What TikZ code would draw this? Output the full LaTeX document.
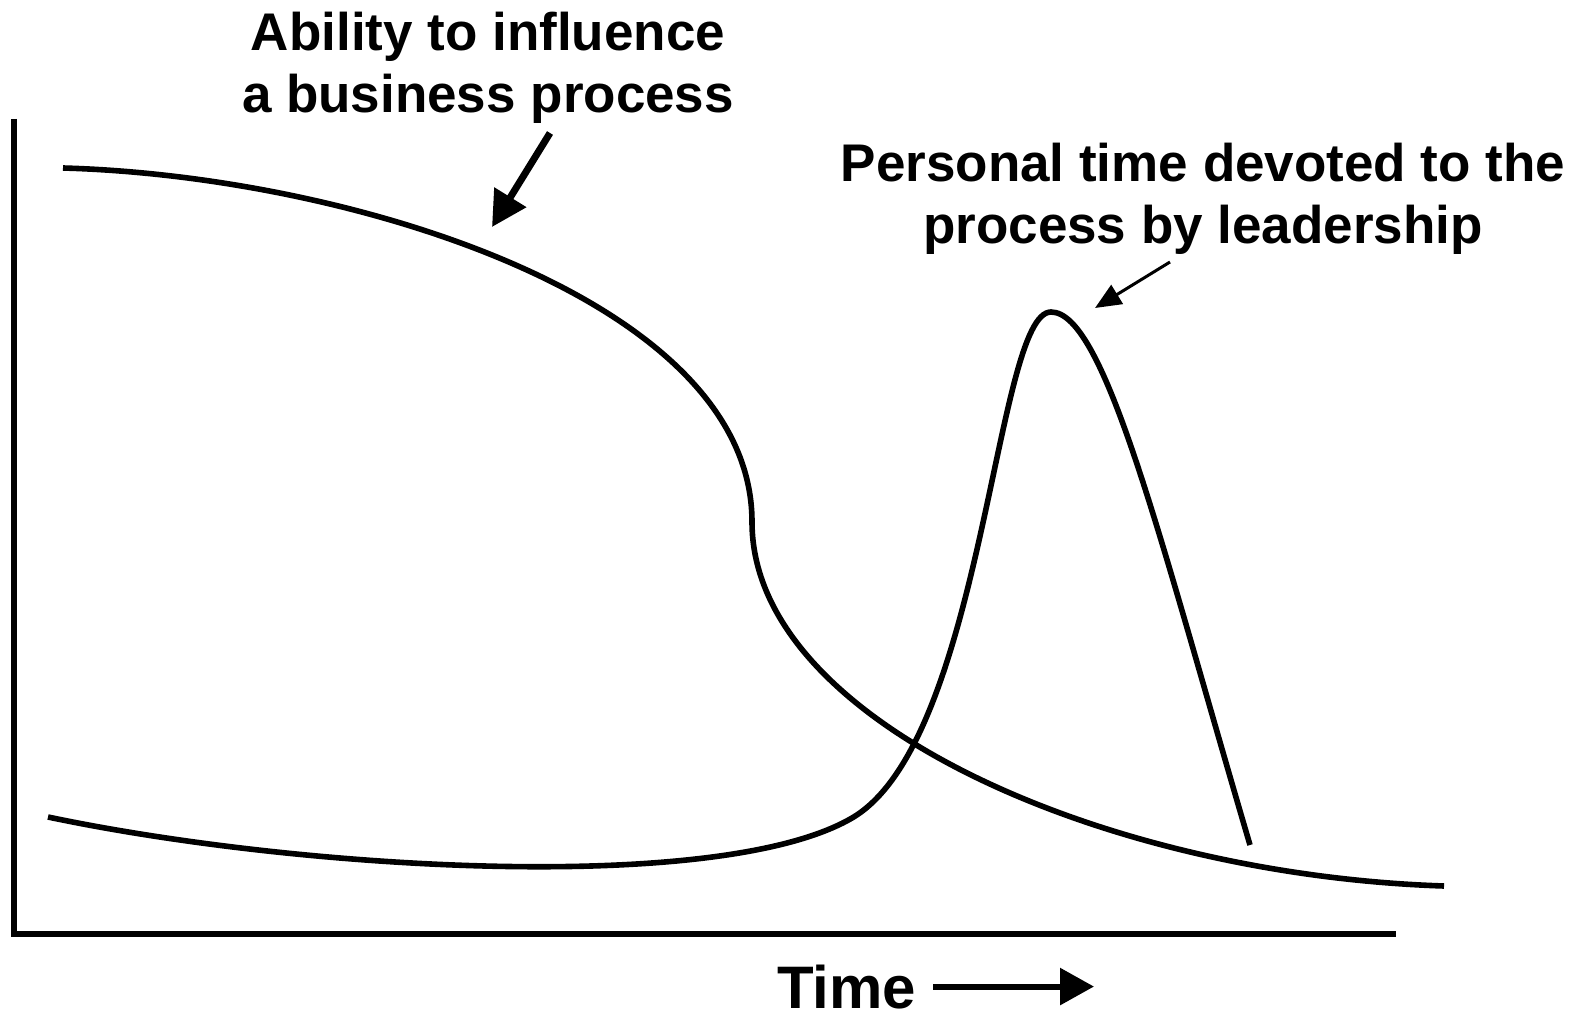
\documentclass[tikz,border=0pt]{standalone}
\usepackage{fontspec}
\setmainfont{Liberation Sans}
\usepackage{tikz}
\usetikzlibrary{arrows.meta}
\tikzset{
	axis/.style      = {draw, line width=6pt},
	curve/.style     = {draw, line width=5.6pt},
	annot/.style     = {inner sep=0pt, align=center,
		font=\fontsize{53}{62}\selectfont\bfseries},
	bigarrow/.style  = {line width=7pt, -{Triangle[length=35pt,width=36pt]}},
	thinarrow/.style = {line width=3pt, -{Triangle[length=26pt,width=22pt]}},
	timearrow/.style = {line width=6pt, -{Triangle[length=34pt,width=36pt]}}
}

\begin{document}
\begin{tikzpicture}[x=1pt, y=-1pt]
		\useasboundingbox (0,0) rectangle (1577,1016);
		
		% axes
		\coordinate (ytop) at (14,119);
		\coordinate (origin) at (14,934);
		\coordinate (xend) at (1396,934);
		\draw[axis] (ytop) -- (origin) -- (xend);
		
		% ability to influence
		\draw[curve] (63,168) .. controls (350,176) and (752,300) .. (752,522)
		.. controls (752,722) and (1105,875) .. (1444,886);
		
		% personal time of leadership
		\draw[curve] (48,817) .. controls (300,870) and (720,895) .. (852,818)
		.. controls (984,741) and (995,312) .. (1051,312)
		.. controls (1105,312) and (1160,540) .. (1250,845);
		
		% labels
		\node at (488,12) [annot, anchor=north] (ability)
		{Ability to influence\\a business process};
		\node at (1203,143) [annot, anchor=north] (leader)
		{Personal time devoted to the\\process by leadership};
		\node at (777,1008) [inner sep=0pt, anchor=base west,
		font=\fontsize{60}{70}\selectfont\bfseries] (time) {Time};
		
		% pointers
		\coordinate (abltail) at (550,133);
		\coordinate (abltip) at (492,227);
		\coordinate (ldrtail) at (1170,262);
		\coordinate (ldrtip) at (1095,308);
		\coordinate (timetip) at (1094,992);
		\draw[bigarrow] (abltail) -- (abltip);
		\draw[thinarrow] (ldrtail) -- (ldrtip);
		\draw[timearrow] ([xshift=17pt]time.east) -- (time.east -| timetip);
		
\end{tikzpicture}
\end{document}
